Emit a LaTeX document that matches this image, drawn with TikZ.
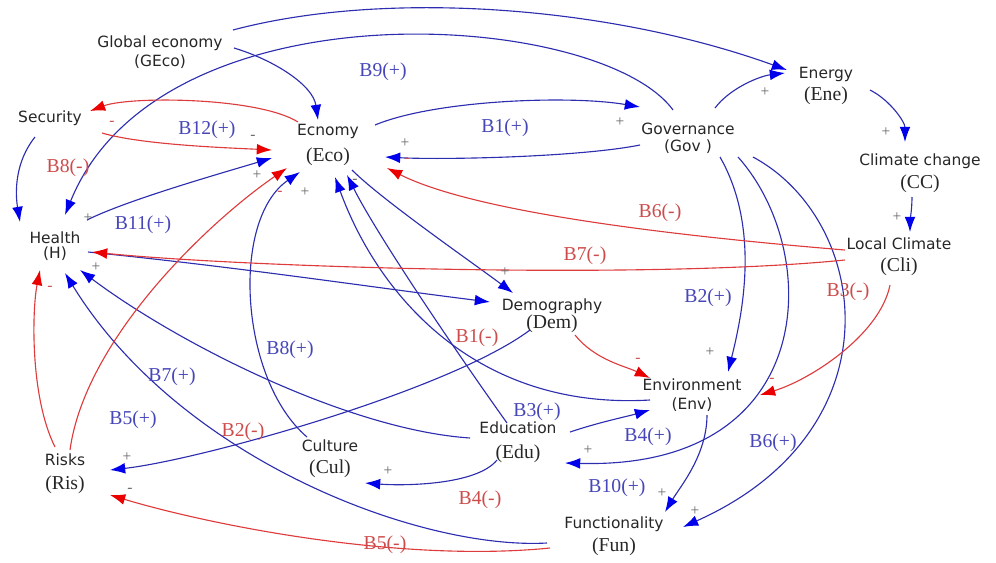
\documentclass[tikz,border=0pt]{standalone}
\usepackage{fontspec}
\setmainfont{Liberation Serif}
\setsansfont{DejaVu Sans}
\usetikzlibrary{arrows.meta,calc}
\definecolor{lineblue}{RGB}{45,45,175}
\definecolor{tipblue}{RGB}{0,0,235}
\definecolor{linered}{RGB}{222,60,60}
\definecolor{tipred}{RGB}{235,0,0}
\definecolor{labblue}{RGB}{70,70,185}
\definecolor{labred}{RGB}{205,75,75}
\newcommand{\abbr}[1]{{\rmfamily\fontsize{14}{14}\selectfont #1}}

\begin{document}
\begin{tikzpicture}[x=0.025cm,y=-0.025cm,
  var/.style={align=center,inner sep=0pt,text=black!85,font=\sffamily\fontsize{11}{13}\selectfont},
  poslink/.style={lineblue,line width=0.8pt,-{Latex[length=3.8mm,width=2.7mm,color=tipblue]}},
  neglink/.style={linered,line width=0.8pt,-{Latex[length=3.8mm,width=2.7mm,color=tipred]}},
  loopb/.style={labblue,font=\fontsize{14}{14}\selectfont},
  loopr/.style={labred,font=\fontsize{14}{14}\selectfont},
  sgn/.style={black!60,font=\fontsize{11}{11}\selectfont},
  sgnr/.style={labred,font=\fontsize{11}{11}\selectfont}]
\useasboundingbox (0,0) rectangle (996,562);

\node[var] (geco) at (160,52) {Global economy\\[1pt](GEco)};
\node[var] (sec) at (50,118) {Security};
\node[var] (hea) at (55,246) {Health\\[-2.5pt](H)};
\node[var] (ris) at (65,474) {Risks\\[4pt]\abbr{(Ris)}};
\node[var] (eco) at (328,145) {Ecnomy\\[5pt]\abbr{(Eco)}};
\node[var] (gov) at (688,138) {Governance\\[-1pt](Gov )};
\node[var] (ene) at (826,86) {Energy\\[2.5pt]\abbr{(Ene)}};
\node[var] (cc) at (920,173) {Climate change\\[3pt]\abbr{(CC)}};
\node[var] (cli) at (899,257) {Local Climate\\[2.5pt]\abbr{(Cli)}};
\node[var] (dem) at (552,316) {Demography\\[0pt]\abbr{(Dem)}};
\node[var] (env) at (692,395) {Environment\\[1pt](Env)};
\node[var] (edu) at (518,442) {Education\\[4.5pt]\abbr{(Edu)}};
\node[var] (cul) at (330,459) {Culture\\[2.5pt]\abbr{(Cul)}};
\node[var] (fun) at (614,536) {Functionality\\[3pt]\abbr{(Fun)}};

% positive links
\draw[poslink] ($(geco)+(73,-22)$) .. controls +(150,-40) and +(-180,-65) .. ($(ene)+(-39,-16)$);
\draw[poslink] ($(geco)+(74,-4)$) .. controls +(40,12) and +(-5,-35) .. ($(eco)+(-10,-25)$);
\draw[poslink] ($(gov)+(-15,-28)$) .. controls +(-73,-100) and +(95,-235) .. ($(hea)+(10,-31)$);
\draw[poslink] ($(eco)+(47,-20)$) .. controls +(60,-25) and +(-70,-12) .. ($(gov)+(-48,-31)$);
\draw[poslink] ($(gov)+(-48,7)$) .. controls +(-60,12) and +(60,3) .. ($(eco)+(57,12)$);
\draw[poslink] ($(gov)+(27,-30)$) .. controls +(15,-20) and +(-25,3) .. ($(ene)+(-41,-13)$);
\draw[poslink] ($(ene)+(44,4)$) .. controls +(20,10) and +(0,-20) .. ($(cc)+(-15,-31)$);
\draw[poslink] ($(cc)+(-8,24)$) .. controls +(0,12) and +(0,-10) .. ($(cli)+(11,-25)$);
\draw[poslink] ($(sec)+(-15,19)$) .. controls +(-20,25) and +(-5,-30) .. ($(hea)+(-35,-24)$);
\draw[poslink] ($(hea)+(32,-26)$) .. controls +(40,-20) and +(-50,15) .. ($(eco)+(-56,13)$);
\draw[poslink] ($(gov)+(32,19)$) .. controls +(40,70) and +(15,-60) .. ($(env)+(36,-23)$);
\draw[poslink] ($(gov)+(50,19)$) .. controls +(85,95) and +(255,7) .. ($(edu)+(47,21)$);
\draw[poslink] ($(gov)+(65,19)$) .. controls +(117,63) and +(217,-97) .. ($(fun)+(69,-9)$);
\draw[poslink] ($(env)+(15,20)$) .. controls +(0,40) and +(15,-25) .. ($(fun)+(51,-24)$);
\draw[poslink] ($(edu)+(52,-10)$) .. controls +(30,-10) and +(-25,7) .. ($(env)+(-42,15)$);
\draw[poslink] ($(env)+(-42,5)$) .. controls +(-170,10) and +(45,123) .. ($(eco)+(7,32)$);
\draw[poslink] ($(edu)+(-11,-19)$) .. controls +(-50,-70) and +(30,60) .. ($(eco)+(19,30)$);
\draw[poslink] ($(eco)+(24,25)$) .. controls +(30,30) and +(-40,-30) .. ($(dem)+(-39,-23)$);
\draw[poslink] ($(hea)+(33,6)$) .. controls +(150,15) and +(-120,-15) .. ($(dem)+(-62,-14)$);
\draw[poslink] ($(dem)+(-22,14)$) .. controls +(-80,60) and +(90,-10) .. ($(ris)+(45,-4)$);
\draw[poslink] ($(edu)+(-48,-4)$) .. controls +(-120,-8) and +(100,75) .. ($(hea)+(25,24)$);
\draw[poslink] ($(fun)+(-67,7)$) .. controls +(-127,7) and +(115,187) .. ($(hea)+(10,27)$);
\draw[poslink] ($(cul)+(-23,-22)$) .. controls +(-67,-57) and +(-70,48) .. ($(eco)+(-28,27)$);
\draw[poslink] ($(edu)+(-21,18)$) .. controls +(-20,25) and +(40,3) .. ($(cul)+(35,24)$);

% negative links
\draw[neglink] ($(eco)+(-30,-23)$) .. controls +(-40,-25) and +(40,-15) .. ($(sec)+(40,-7)$);
\draw[neglink] ($(sec)+(52,15)$) .. controls +(40,12) and +(-40,-2) .. ($(eco)+(-56,5)$);
\draw[neglink] ($(ris)+(5,-24)$) .. controls +(15,-110) and +(-80,55) .. ($(eco)+(-41,23)$);
\draw[neglink] ($(ris)+(-10,-27)$) .. controls +(-25,-50) and +(-8,40) .. ($(hea)+(-15,24)$);
\draw[neglink] ($(fun)+(-64,12)$) .. controls +(-150,15) and +(100,30) .. ($(ris)+(45,21)$);
\draw[neglink] ($(cli)+(-54,-7)$) .. controls +(-145,-12) and +(93,47) .. ($(eco)+(59,23)$);
\draw[neglink] ($(cli)+(-54,3)$) .. controls +(-200,20) and +(150,15) .. ($(hea)+(37,6)$);
\draw[neglink] ($(cli)+(-9,28)$) .. controls +(-10,50) and +(50,-15) .. ($(env)+(68,0)$);
\draw[neglink] ($(dem)+(23,19)$) .. controls +(20,25) and +(-25,-12) .. ($(env)+(-42,-17)$);

% loop names
\node[loopb] (b9p) at (383,72) {B9(+)};
\node[loopb] (b1p) at (505,128) {B1(+)};
\node[loopb] (b12p) at (207,130) {B12(+)};
\node[loopr] (b8m) at (68,168) {B8(-)};
\node[loopb] (b11p) at (143,225) {B11(+)};
\node[loopr] (b6m) at (660,213) {B6(-)};
\node[loopr] (b7m) at (585,256) {B7(-)};
\node[loopb] (b2p) at (708,298) {B2(+)};
\node[loopr] (b3m) at (848,292) {B3(-)};
\node[loopr] (b1m) at (477,338) {B1(-)};
\node[loopb] (b8p) at (290,350) {B8(+)};
\node[loopb] (b7p) at (172,377) {B7(+)};
\node[loopb] (b5p) at (133,420) {B5(+)};
\node[loopr] (b2m) at (243,432) {B2(-)};
\node[loopb] (b3p) at (537,412) {B3(+)};
\node[loopb] (b4p) at (648,437) {B4(+)};
\node[loopb] (b6p) at (773,443) {B6(+)};
\node[loopr] (b4m) at (480,500) {B4(-)};
\node[loopb] (b10p) at (617,488) {B10(+)};
\node[loopr] (b5m) at (385,545) {B5(-)};

% link signs
\node[sgn] (s1) at (765,92) {+};
\node[sgn] (s2) at (886,132) {+};
\node[sgn] (s3) at (897,217) {+};
\node[sgn] (s4) at (620,122) {+};
\node[sgn] (s5) at (405,143) {+};
\node[sgnr] (s6) at (407,160) {-};
\node[sgn] (s7) at (253,137) {-};
\node[sgnr] (s8) at (112,123) {-};
\node[sgn] (s9) at (257,175) {+};
\node[sgnr] (s10) at (280,193) {-};
\node[sgn] (s11) at (305,192) {+};
\node[sgn] (s12) at (355,181) {-};
\node[sgn] (s13) at (88,218) {+};
\node[sgn] (s14) at (96,267) {+};
\node[sgnr] (s15) at (50,288) {-};
\node[sgn] (s16) at (505,272) {+};
\node[sgn] (s17) at (710,352) {+};
\node[sgnr] (s18) at (638,360) {-};
\node[sgnr] (s19) at (772,380) {-};
\node[sgn] (s20) at (588,450) {+};
\node[sgn] (s21) at (662,493) {+};
\node[sgn] (s22) at (695,511) {+};
\node[sgn] (s23) at (127,457) {+};
\node[sgn] (s24) at (130,490) {-};
\node[sgn] (s25) at (388,471) {+};
\end{tikzpicture}
\end{document}
